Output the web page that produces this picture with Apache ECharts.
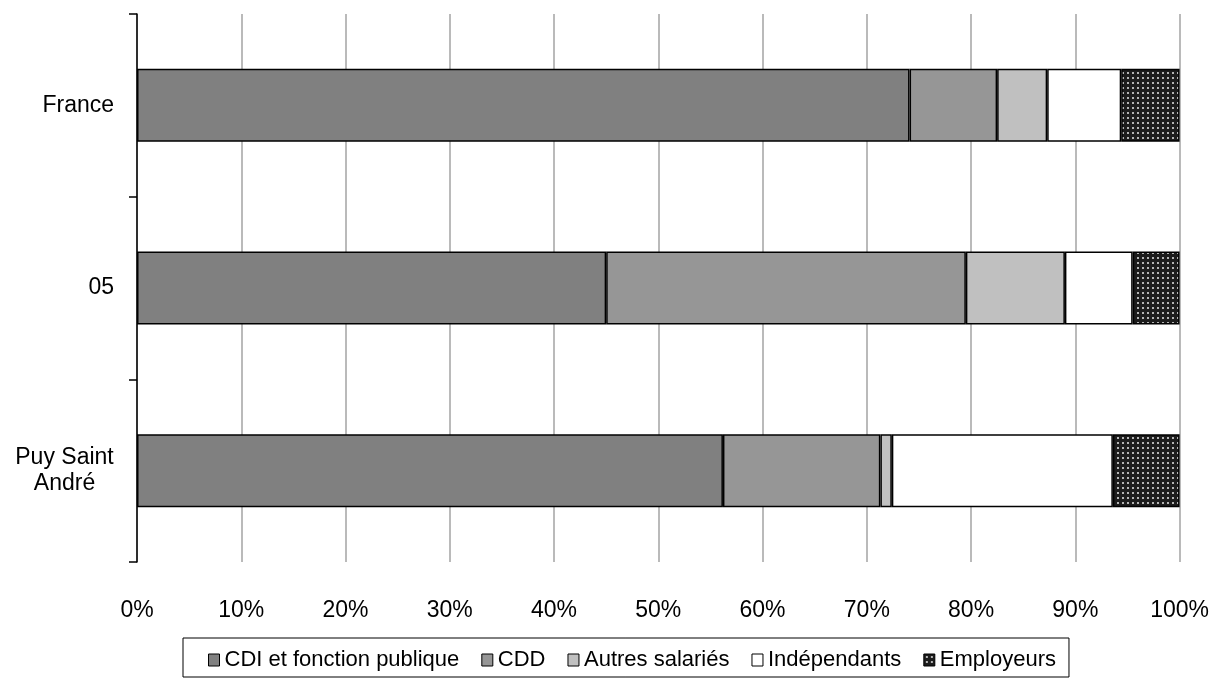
<!DOCTYPE html>
<html>
<head>
<meta charset="utf-8">
<script src="https://cdn.jsdelivr.net/npm/echarts@6/dist/echarts.min.js"></script>
<style>
  html, body { margin: 0; padding: 0; background: #fff; }
  #chart { width: 1212px; height: 678px; }
</style>
</head>
<body>
<div id="chart"></div>
<script>
// categories, top to bottom
const categories = ['France', '05', 'Puy Saint\nAndré']
const xTicks = ['0%', '10%', '20%', '30%', '40%', '50%', '60%', '70%', '80%', '90%', '100%']

// shares in %
const cdi = [74.1, 45.0, 56.2]
const cdd = [8.4, 34.5, 15.1]
const autres = [4.8, 9.5, 1.1]
const independants = [7.1, 6.5, 21.2]
const employeurs = [5.6, 4.5, 6.4]

// dotted pattern for "Employeurs"
function dotPattern() {
    const c = document.createElement('canvas')
    c.width = 5
    c.height = 5
    const ctx = c.getContext('2d')
    ctx.fillStyle = '#1c1c1c'
    ctx.fillRect(0, 0, 5, 5)
    ctx.fillStyle = '#b4b4b4'
    ctx.fillRect(2, 2, 2, 2)
    return { image: c, repeat: 'repeat' }
}

const series = [
    { name: 'CDI et fonction publique', data: cdi, color: '#808080' },
    { name: 'CDD', data: cdd, color: '#969696' },
    { name: 'Autres salariés', data: autres, color: '#c0c0c0' },
    { name: 'Indépendants', data: independants, color: '#ffffff' },
    { name: 'Employeurs', data: employeurs, color: dotPattern() },
].map((s) => ({
    name: s.name,
    type: 'bar',
    stack: 'total',
    data: s.data,
    barWidth: 73,
    itemStyle: { color: s.color, borderColor: '#000', borderWidth: 1.5 },
}))

// the two-line label is centred on itself, right-aligned as a block
const yLabels = categories.map((c) =>
    c.indexOf('\n') >= 0
        ? { value: c, textStyle: { align: 'center', padding: [0, 99, 0, 0] } }
        : c
)

const chart = echarts.init(document.getElementById('chart'))
chart.setOption({
    animation: false,
    textStyle: { fontFamily: 'Liberation Sans, Arial, sans-serif' },
    grid: { left: 137, right: 32, top: 14, bottom: 116 },
    legend: {
        bottom: 1,
        left: 183,
        icon: 'rect',
        itemWidth: 11,
        itemHeight: 12,
        itemGap: 22,
        padding: [11, 13, 6, 25],
        borderColor: '#000',
        borderWidth: 1,
        textStyle: { fontSize: 22, color: '#000' },
        itemStyle: { borderColor: '#000', borderWidth: 1 },
        data: series.map((s) => s.name),
    },
    xAxis: {
        type: 'value',
        min: 0,
        max: 100,
        interval: 10,
        axisLine: { show: false },
        axisTick: { show: false },
        axisLabel: {
            margin: 37,
            fontSize: 23,
            color: '#000',
            formatter: (v) => xTicks[Math.round(v / 10)],
        },
        splitLine: { show: true, lineStyle: { color: '#a3a3a3', width: 1.5 } },
    },
    yAxis: {
        type: 'category',
        inverse: true,
        data: yLabels,
        axisLine: { show: true, lineStyle: { color: '#000', width: 1.5 } },
        axisTick: { show: true, length: 8, lineStyle: { color: '#000', width: 1.5 } },
        axisLabel: { margin: 23, fontSize: 23, color: '#000', lineHeight: 26, align: 'right' },
    },
    series: series,
})
</script>
</body>
</html>
